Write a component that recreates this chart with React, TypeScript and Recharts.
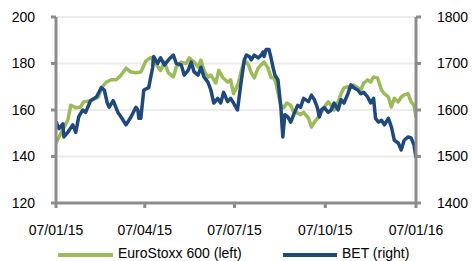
import { LineChart, Line, XAxis, YAxis, CartesianGrid } from "recharts";

// days since 07/01/15
const tickDays = [0, 90, 181, 273, 365];
const tickLabels = ["07/01/15", "07/04/15", "07/07/15", "07/10/15", "07/01/16"];

const leftTicks = [120, 140, 160, 180, 200];
const rightTicks = [1400, 1500, 1600, 1700, 1800];

const stoxxDays = [
  0, 5, 12, 15, 20, 25, 28, 35, 43, 46, 51, 56, 61, 66, 71, 76, 81, 86, 91, 96,
  101, 106, 110, 114, 119, 122, 127, 132, 135, 140, 144, 147, 150, 154, 157, 162, 165, 169, 174, 177,
  180, 185, 188, 191, 195, 198, 201, 205, 208, 211, 215, 218, 221, 223, 226, 228, 231, 234, 238, 241,
  245, 248, 251, 256, 259, 262, 266, 269, 272, 276, 279, 282, 286, 289, 292, 296, 299, 302, 306, 309,
  312, 316, 319, 322, 326, 330, 333, 337, 340, 343, 347, 350, 353, 357, 360, 363, 365,
];
const stoxxValues = [
  145.8, 150, 155.7, 162, 161, 161.3, 163.5, 164, 165.6, 169.5, 172, 173, 173, 175, 178, 176.3, 176, 176.3, 181, 182.5,
  180, 177, 180.6, 176, 174.2, 178.5, 180.6, 180, 182.4, 180.6, 178.5, 181.5, 177, 174, 175, 171.6, 177, 174, 172, 173,
  167, 171.6, 177, 181.5, 179.5, 176, 173.8, 178, 179.4, 180.6, 178, 174, 173.8, 171.6, 165.6, 162, 161, 163, 162, 159,
  158.7, 158, 159, 156.5, 152.7, 154.8, 157, 159, 161.3, 163.5, 162, 160, 163.5, 167, 169.5, 170, 169.5, 170.7, 169.5, 168.6,
  171.6, 173, 172, 174.2, 173.8, 168.6, 167, 165.6, 161.3, 165, 163.5, 165.6, 166.5, 167, 163.5, 162, 157,
];

const betDays = [
  0, 3, 7, 8, 12, 17, 20, 23, 27, 30, 35, 41, 46, 49, 52, 54, 58, 63, 66, 71,
  76, 81, 83, 84, 86, 89, 94, 98, 99, 103, 106, 110, 115, 119, 122, 127, 130, 134, 137, 140,
  144, 147, 150, 154, 157, 160, 164, 167, 170, 174, 177, 180, 184, 188, 191, 193, 196, 198, 201, 205,
  208, 210, 211, 213, 216, 218, 220, 222, 225, 228, 229, 230, 232, 235, 238, 241, 245, 248, 251, 256,
  259, 262, 265, 267, 269, 272, 276, 279, 282, 286, 289, 292, 296, 299, 302, 306, 309, 312, 316, 319,
  322, 324, 327, 330, 333, 337, 340, 343, 347, 350, 353, 357, 360, 363, 365,
];
const betValues = [
  1575, 1560, 1570, 1542, 1552, 1568, 1552, 1585, 1600, 1595, 1620, 1628, 1648, 1643, 1615, 1606, 1620, 1594, 1585, 1568,
  1585, 1606, 1600, 1582, 1582, 1643, 1648, 1692, 1715, 1700, 1712, 1697, 1710, 1718, 1700, 1697, 1675, 1685, 1703, 1682,
  1675, 1692, 1671, 1660, 1643, 1615, 1625, 1615, 1638, 1618, 1625, 1615, 1600, 1665, 1708, 1718, 1715, 1708, 1718, 1712,
  1718, 1725, 1715, 1730, 1730, 1712, 1692, 1675, 1665, 1606, 1572, 1542, 1590, 1585, 1574, 1590, 1610, 1606, 1625, 1618,
  1632, 1622, 1605, 1585, 1600, 1605, 1595, 1600, 1615, 1600, 1622, 1615, 1635, 1654, 1648, 1643, 1635, 1638, 1628, 1615,
  1625, 1582, 1574, 1578, 1568, 1582, 1564, 1535, 1529, 1514, 1535, 1542, 1540, 1525, 1497,
];

const GREEN = "#9bbb59";
const BLUE = "#1f497d";
const AXIS = "#8c8c8c";
const FONT = "'Liberation Sans', Arial, sans-serif";

const stoxxData = stoxxDays.map((d, i) => ({ day: d, value: stoxxValues[i] }));
const betData = betDays.map((d, i) => ({ day: d, value: betValues[i] }));

const tickStyle = { fill: "#000", fontSize: 14, fontFamily: FONT };

export default function App() {
  return (
    <div style={{ position: "absolute", left: 0, top: 0, width: 472, height: 261, background: "#fff", overflow: "hidden" }}>
      <LineChart width={472} height={261} margin={{ top: 17, right: 0, left: 0, bottom: 0 }}>
        <CartesianGrid yAxisId="left" vertical={false} stroke="#ececec" strokeWidth={2} />
        <XAxis
          dataKey="day"
          type="number"
          domain={[0, 365]}
          ticks={tickDays}
          tickFormatter={(v: number) => tickLabels[tickDays.indexOf(v)]}
          height={58}
          stroke={AXIS}
          strokeWidth={3}
          tickSize={5}
          tickMargin={17}
          tick={tickStyle}
          allowDataOverflow
        />
        <YAxis
          yAxisId="left"
          domain={[120, 200]}
          ticks={leftTicks}
          width={56}
          stroke={AXIS}
          strokeWidth={3}
          tickSize={5}
          tickMargin={16}
          tick={tickStyle}
        />
        <YAxis
          yAxisId="right"
          orientation="right"
          domain={[1400, 1800]}
          ticks={rightTicks}
          width={56}
          stroke={AXIS}
          strokeWidth={3}
          tickSize={5}
          tickMargin={16}
          tick={{ ...tickStyle, textAnchor: "start" }}
        />
        <Line
          yAxisId="left"
          data={stoxxData}
          dataKey="value"
          type="linear"
          stroke={GREEN}
          strokeWidth={3.5}
          dot={false}
          strokeLinejoin="round"
          isAnimationActive={false}
        />
        <Line
          yAxisId="right"
          data={betData}
          dataKey="value"
          type="linear"
          stroke={BLUE}
          strokeWidth={3.5}
          dot={false}
          strokeLinejoin="round"
          isAnimationActive={false}
        />
      </LineChart>

      <div style={{ position: "absolute", left: 58, top: 253, width: 55, height: 4, background: GREEN }} />
      <div style={{ position: "absolute", left: 118, top: 245, fontSize: 14, fontFamily: FONT, lineHeight: "16px" }}>
        EuroStoxx 600 (left)
      </div>
      <div style={{ position: "absolute", left: 283, top: 253, width: 54, height: 4, background: BLUE }} />
      <div style={{ position: "absolute", left: 342, top: 245, fontSize: 14, fontFamily: FONT, lineHeight: "16px" }}>
        BET (right)
      </div>
    </div>
  );
}
